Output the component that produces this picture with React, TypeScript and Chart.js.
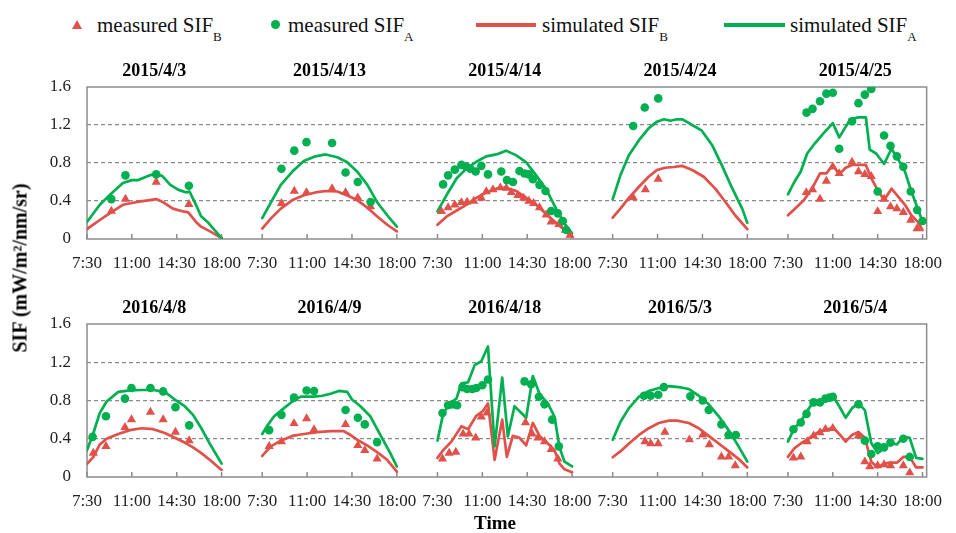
import React, { useEffect, useRef } from 'react';
import { Chart, registerables } from 'chart.js';

Chart.register(...registerables);

const RED = '#E2504A';
const GREEN = '#00B050';
const FONT = "'Liberation Serif', 'Times New Roman', serif";

const TICK_TIMES = [7.5, 11, 14.5, 18];
const TICK_LABELS = ['7:30', '11:00', '14:30', '18:00'];
const Y_TICKS = [0, 0.4, 0.8, 1.2, 1.6];
const DAY_SPACING = 13.67;
const X_MIN = 7.5;
const X_MAX = 73.0;

const TITLES_ROW1 = ['2015/4/3', '2015/4/13', '2015/4/14', '2015/4/24', '2015/4/25'];
const TITLES_ROW2 = ['2016/4/8', '2016/4/9', '2016/4/18', '2016/5/3', '2016/5/4'];

// ---- 2015/4/3 ----
const simA_150403 = [[7.5, 0.18], [8.5, 0.36], [9.4, 0.48], [10.3, 0.59], [11.0, 0.62], [11.5, 0.62], [12.4, 0.67], [12.9, 0.69], [13.4, 0.66], [14.0, 0.57], [14.6, 0.52], [15.25, 0.49], [15.5, 0.5], [16.0, 0.36], [16.4, 0.24], [16.9, 0.18], [18.0, 0.01]];
const simB_150403 = [[7.5, 0.105], [8.5, 0.2], [9.5, 0.29], [10.3, 0.36], [11.4, 0.39], [12.4, 0.41], [12.9, 0.42], [13.4, 0.39], [14.2, 0.32], [15.0, 0.29], [15.4, 0.28], [16.0, 0.18], [16.4, 0.13], [17.1, 0.08], [18.0, 0.01]];
const meaA_150403 = [[9.4, 0.42], [10.5, 0.67], [12.9, 0.68], [15.45, 0.56]];
const meaB_150403 = [[9.4, 0.295], [10.5, 0.42], [12.9, 0.6], [15.45, 0.365]];

// ---- 2015/4/13 ----
const simA_150413 = [[7.5, 0.22], [8.2, 0.39], [8.95, 0.57], [9.85, 0.71], [10.75, 0.82], [11.65, 0.87], [12.45, 0.89], [13.35, 0.86], [14.1, 0.81], [14.9, 0.71], [15.7, 0.57], [16.45, 0.39], [17.25, 0.25], [18.0, 0.13]];
const simB_150413 = [[7.5, 0.11], [8.2, 0.22], [8.95, 0.32], [9.85, 0.41], [10.75, 0.46], [11.65, 0.49], [12.45, 0.505], [13.35, 0.5], [14.1, 0.46], [14.9, 0.41], [15.7, 0.33], [16.45, 0.24], [17.25, 0.15], [18.0, 0.08]];
const meaA_150413 = [[9.0, 0.74], [10.0, 0.93], [10.95, 1.02], [12.95, 1.01], [14.0, 0.7], [14.95, 0.6], [15.95, 0.39]];
const meaB_150413 = [[9.0, 0.375], [10.0, 0.505], [10.95, 0.49], [12.95, 0.53], [14.0, 0.49], [14.95, 0.435], [15.95, 0.34]];

// ---- 2015/4/14 ----
const simA_150414 = [[7.5, 0.29], [8.2, 0.46], [9.0, 0.64], [9.75, 0.74], [10.5, 0.81], [11.3, 0.87], [12.1, 0.89], [12.85, 0.93], [13.65, 0.88], [14.4, 0.81], [15.2, 0.67], [16.0, 0.52], [16.75, 0.32], [17.4, 0.165], [18.0, 0.06]];
const simB_150414 = [[7.5, 0.15], [8.2, 0.235], [9.0, 0.3], [9.75, 0.36], [10.5, 0.43], [11.3, 0.49], [12.1, 0.53], [12.85, 0.54], [13.65, 0.505], [14.4, 0.435], [15.2, 0.36], [16.0, 0.26], [16.75, 0.17], [17.4, 0.095], [18.0, 0.025]];
const meaA_150414 = [[7.94, 0.575], [8.33, 0.67], [8.85, 0.73], [9.37, 0.78], [9.76, 0.76], [10.07, 0.74], [10.48, 0.71], [10.92, 0.77], [11.44, 0.68], [12.48, 0.71], [12.92, 0.62], [13.39, 0.6], [13.9, 0.715], [14.29, 0.69], [14.63, 0.68], [14.94, 0.63], [15.46, 0.57], [15.93, 0.505], [16.37, 0.295], [16.89, 0.27], [17.28, 0.19], [17.54, 0.095]];
const meaB_150414 = [[7.81, 0.29], [8.33, 0.33], [8.85, 0.36], [9.37, 0.385], [9.81, 0.39], [10.33, 0.4], [10.92, 0.43], [11.31, 0.5], [11.83, 0.52], [12.4, 0.54], [12.87, 0.535], [13.26, 0.49], [13.78, 0.46], [14.22, 0.43], [14.63, 0.4], [15.0, 0.375], [15.46, 0.33], [15.98, 0.255], [16.37, 0.18], [16.97, 0.155], [17.48, 0.095], [17.84, 0.04]];

// ---- 2015/4/24 ----
const simA_150424 = [[7.5, 0.42], [8.1, 0.67], [8.75, 0.88], [9.55, 1.04], [10.3, 1.165], [10.95, 1.235], [11.5, 1.26], [12.0, 1.245], [12.5, 1.26], [12.95, 1.26], [13.7, 1.2], [14.45, 1.14], [15.25, 0.99], [16.0, 0.78], [16.8, 0.54], [17.6, 0.32], [18.0, 0.17]];
const simB_150424 = [[7.5, 0.225], [8.1, 0.32], [8.75, 0.43], [9.55, 0.55], [10.3, 0.655], [10.95, 0.726], [11.6, 0.75], [12.25, 0.758], [12.9, 0.77], [13.7, 0.726], [14.6, 0.655], [15.5, 0.53], [16.3, 0.39], [17.05, 0.25], [18.0, 0.105]];
const meaA_150424 = [[9.1, 1.19], [10.0, 1.385], [11.05, 1.48]];
const meaB_150424 = [[9.1, 0.435], [10.05, 0.52], [11.05, 0.63]];

// ---- 2015/4/25 ----
const simA_150425 = [[7.5, 0.47], [8.0, 0.6], [8.5, 0.71], [9.0, 0.9], [9.62, 1.01], [10.25, 1.11], [11.0, 1.22], [11.5, 1.07], [12.0, 1.18], [12.38, 1.26], [13.0, 1.28], [13.58, 1.28], [13.88, 0.94], [14.38, 0.9], [15.0, 0.79], [15.58, 0.95], [16.13, 0.83], [16.63, 0.71], [17.13, 0.5], [17.63, 0.32], [18.0, 0.18]];
const simB_150425 = [[7.5, 0.25], [8.13, 0.33], [8.75, 0.41], [9.38, 0.53], [10.0, 0.69], [10.5, 0.69], [11.0, 0.78], [11.5, 0.68], [12.0, 0.75], [12.5, 0.78], [13.0, 0.78], [13.58, 0.78], [14.0, 0.64], [14.5, 0.515], [15.0, 0.41], [15.58, 0.53], [16.13, 0.44], [16.63, 0.36], [17.13, 0.25], [17.63, 0.18], [18.0, 0.095]];
const meaA_150425 = [[8.95, 1.33], [9.42, 1.37], [10.0, 1.45], [10.5, 1.53], [11.0, 1.54], [11.5, 0.95], [12.5, 1.24], [13.0, 1.43], [13.5, 1.52], [14.0, 1.58], [14.5, 0.5], [15.0, 1.09], [15.5, 0.98], [16.0, 0.87], [16.5, 0.76], [17.08, 0.5], [17.58, 0.305], [18.0, 0.19]];
const meaB_150425 = [[8.93, 0.49], [9.42, 0.52], [10.0, 0.42], [10.5, 0.61], [11.0, 0.76], [11.5, 0.69], [12.5, 0.81], [13.0, 0.71], [13.5, 0.68], [14.0, 0.66], [14.5, 0.29], [15.0, 0.42], [15.5, 0.34], [16.0, 0.32], [16.5, 0.28], [17.08, 0.2], [17.58, 0.11]];

// ---- 2016/4/8 ----
const simA_160408 = [[7.5, 0.28], [8.0, 0.46], [8.5, 0.67], [9.03, 0.79], [9.94, 0.89], [10.85, 0.905], [11.75, 0.91], [12.66, 0.91], [13.57, 0.89], [14.35, 0.81], [15.12, 0.74], [15.77, 0.65], [16.42, 0.51], [17.07, 0.35], [18.0, 0.14]];
const simB_160408 = [[7.5, 0.137], [8.0, 0.21], [8.5, 0.34], [9.03, 0.4], [9.94, 0.45], [10.85, 0.49], [11.75, 0.51], [12.66, 0.5], [13.57, 0.46], [14.35, 0.41], [15.12, 0.36], [15.77, 0.31], [16.42, 0.25], [17.07, 0.18], [18.0, 0.074]];
const meaA_160408 = [[7.94, 0.42], [8.98, 0.635], [10.46, 0.82], [10.97, 0.93], [12.45, 0.93], [13.44, 0.895], [14.4, 0.73], [15.47, 0.54]];
const meaB_160408 = [[7.99, 0.25], [8.98, 0.32], [10.46, 0.52], [10.97, 0.6], [12.45, 0.68], [13.44, 0.6], [14.4, 0.47], [15.47, 0.38]];

// ---- 2016/4/9 ----
const simA_160409 = [[7.5, 0.45], [7.91, 0.54], [8.43, 0.635], [9.2, 0.72], [9.85, 0.79], [10.5, 0.84], [11.15, 0.84], [11.53, 0.84], [12.18, 0.85], [12.83, 0.87], [13.47, 0.9], [14.13, 0.89], [14.5, 0.81], [15.16, 0.74], [15.93, 0.635], [16.71, 0.44], [17.49, 0.25], [18.0, 0.11]];
const simB_160409 = [[7.5, 0.22], [8.17, 0.32], [8.95, 0.38], [9.85, 0.43], [10.76, 0.45], [11.79, 0.47], [12.83, 0.48], [13.86, 0.48], [14.25, 0.45], [14.9, 0.39], [15.68, 0.33], [16.46, 0.26], [17.24, 0.18], [18.0, 0.056]];
const meaA_160409 = [[8.04, 0.49], [9.0, 0.65], [9.98, 0.83], [10.96, 0.905], [11.54, 0.9], [14.0, 0.7], [14.96, 0.62], [15.5, 0.55], [16.46, 0.365]];
const meaB_160409 = [[8.04, 0.32], [9.0, 0.37], [9.98, 0.56], [10.96, 0.61], [11.54, 0.495], [14.0, 0.55], [14.96, 0.33], [15.5, 0.28], [16.46, 0.19]];

// ---- 2016/4/18 ----
const simA_160418 = [[7.5, 0.38], [7.94, 0.66], [8.46, 0.77], [8.98, 0.82], [9.37, 0.98], [9.89, 0.99], [10.4, 1.17], [10.92, 1.21], [11.44, 1.365], [11.96, 0.32], [12.55, 1.04], [12.99, 0.425], [13.51, 0.74], [14.42, 0.62], [14.94, 1.056], [15.46, 0.87], [16.11, 0.77], [16.63, 0.63], [17.02, 0.31], [17.41, 0.16], [18.0, 0.11]];
const simB_160418 = [[7.5, 0.2], [7.94, 0.28], [8.59, 0.37], [9.37, 0.53], [9.89, 0.5], [10.53, 0.64], [11.05, 0.69], [11.44, 0.77], [11.96, 0.18], [12.55, 0.6], [12.91, 0.21], [13.38, 0.43], [13.9, 0.41], [14.42, 0.33], [14.94, 0.565], [15.46, 0.43], [16.11, 0.35], [16.63, 0.28], [17.02, 0.14], [17.41, 0.08], [18.0, 0.05]];
const meaA_160418 = [[7.89, 0.67], [8.33, 0.75], [8.67, 0.76], [9.03, 0.75], [9.45, 0.94], [9.81, 0.92], [10.22, 0.92], [10.53, 0.93], [11.0, 0.96], [11.44, 1.02], [14.29, 1.0], [14.81, 0.97], [15.41, 0.84], [15.85, 0.76], [16.45, 0.6], [16.97, 0.32]];
const meaB_160418 = [[7.89, 0.19], [8.41, 0.25], [8.93, 0.26], [9.5, 0.45], [9.96, 0.45], [10.48, 0.41], [10.92, 0.63], [11.36, 0.67], [14.37, 0.57], [14.89, 0.45], [15.33, 0.41], [15.85, 0.37], [16.37, 0.29], [16.89, 0.19]];

// ---- 2016/5/3 ----
const simA_160503 = [[7.5, 0.39], [8.12, 0.58], [8.77, 0.72], [9.55, 0.84], [10.32, 0.9], [11.1, 0.93], [11.88, 0.95], [12.66, 0.94], [13.44, 0.92], [14.21, 0.85], [14.99, 0.76], [15.77, 0.635], [16.54, 0.49], [17.32, 0.32], [18.0, 0.16]];
const simB_160503 = [[7.5, 0.207], [8.12, 0.27], [8.77, 0.35], [9.55, 0.44], [10.32, 0.51], [11.1, 0.565], [11.88, 0.59], [12.52, 0.59], [13.44, 0.565], [14.21, 0.51], [14.99, 0.43], [15.77, 0.35], [16.54, 0.27], [17.32, 0.19], [18.0, 0.1]];
const meaA_160503 = [[9.94, 0.85], [10.46, 0.85], [11.05, 0.86], [11.49, 0.94], [13.56, 0.845], [14.52, 0.8], [14.99, 0.7], [15.98, 0.55], [16.54, 0.44], [17.11, 0.44]];
const meaB_160503 = [[10.02, 0.37], [10.46, 0.35], [11.05, 0.35], [11.57, 0.47], [13.48, 0.39], [14.52, 0.44], [15.04, 0.34], [15.98, 0.21], [16.54, 0.21], [17.06, 0.12]];

// ---- 2016/5/4 ----
const simA_160504 = [[7.5, 0.37], [8.0, 0.51], [8.5, 0.58], [9.0, 0.69], [9.5, 0.79], [10.0, 0.79], [10.5, 0.83], [11.0, 0.85], [11.5, 0.74], [12.0, 0.62], [12.5, 0.72], [13.0, 0.77], [13.5, 0.7], [14.0, 0.355], [14.5, 0.25], [15.0, 0.3], [15.5, 0.355], [16.0, 0.34], [16.5, 0.42], [17.0, 0.41], [17.5, 0.2], [18.0, 0.19]];
const simB_160504 = [[7.5, 0.21], [8.0, 0.3], [8.5, 0.35], [9.0, 0.39], [9.5, 0.44], [10.0, 0.48], [10.5, 0.49], [11.0, 0.52], [11.5, 0.45], [12.0, 0.37], [12.5, 0.44], [13.0, 0.47], [13.5, 0.41], [14.0, 0.16], [14.5, 0.1], [15.0, 0.14], [15.5, 0.15], [16.0, 0.15], [16.5, 0.21], [17.0, 0.21], [17.5, 0.1], [18.0, 0.1]];
const meaA_160504 = [[7.93, 0.5], [8.5, 0.57], [8.95, 0.66], [9.5, 0.78], [10.0, 0.78], [10.43, 0.82], [10.75, 0.83], [11.0, 0.84], [13.0, 0.76], [13.5, 0.38], [14.0, 0.24], [14.5, 0.32], [15.0, 0.31], [15.5, 0.36], [16.5, 0.4], [17.0, 0.21]];
const meaB_160504 = [[7.93, 0.2], [8.5, 0.21], [9.0, 0.37], [9.5, 0.43], [10.0, 0.465], [10.43, 0.5], [11.0, 0.51], [13.0, 0.43], [13.5, 0.16], [13.88, 0.11], [14.5, 0.12], [15.0, 0.13], [15.5, 0.12], [16.5, 0.12], [17.0, 0.045]];

type Pair = number[];
interface Panel { simA: Pair[]; simB: Pair[]; meaA: Pair[]; meaB: Pair[] }

const ROW1: Panel[] = [
  { simA: simA_150403, simB: simB_150403, meaA: meaA_150403, meaB: meaB_150403 },
  { simA: simA_150413, simB: simB_150413, meaA: meaA_150413, meaB: meaB_150413 },
  { simA: simA_150414, simB: simB_150414, meaA: meaA_150414, meaB: meaB_150414 },
  { simA: simA_150424, simB: simB_150424, meaA: meaA_150424, meaB: meaB_150424 },
  { simA: simA_150425, simB: simB_150425, meaA: meaA_150425, meaB: meaB_150425 },
];
const ROW2: Panel[] = [
  { simA: simA_160408, simB: simB_160408, meaA: meaA_160408, meaB: meaB_160408 },
  { simA: simA_160409, simB: simB_160409, meaA: meaA_160409, meaB: meaB_160409 },
  { simA: simA_160418, simB: simB_160418, meaA: meaA_160418, meaB: meaB_160418 },
  { simA: simA_160503, simB: simB_160503, meaA: meaA_160503, meaB: meaB_160503 },
  { simA: simA_160504, simB: simB_160504, meaA: meaA_160504, meaB: meaB_160504 },
];

const ALL_TICKS: number[] = [];
for (let p = 0; p < 5; p++) TICK_TIMES.forEach((t) => ALL_TICKS.push(p * DAY_SPACING + t));

function buildDatasets(panels: Panel[]) {
  const ds: any[] = [];
  panels.forEach((p, i) => {
    const off = i * DAY_SPACING;
    const map = (arr: Pair[]) => arr.map(([t, v]) => ({ x: off + t, y: v }));
    ds.push({ data: map(p.meaA), pointStyle: 'circle', pointRadius: 4.3, backgroundColor: GREEN, borderColor: GREEN, borderWidth: 0, showLine: false });
    ds.push({ data: map(p.meaB), pointStyle: 'triangle', pointRadius: 5.3, backgroundColor: RED, borderColor: RED, borderWidth: 0, showLine: false });
    ds.push({ data: map(p.simA), showLine: true, pointRadius: 0, borderColor: GREEN, backgroundColor: GREEN, borderWidth: 2.7, tension: 0, borderJoinStyle: 'round', borderCapStyle: 'round' });
    ds.push({ data: map(p.simB), showLine: true, pointRadius: 0, borderColor: RED, backgroundColor: RED, borderWidth: 2.7, tension: 0, borderJoinStyle: 'round', borderCapStyle: 'round' });
  });
  return ds;
}

const decorPlugin = {
  id: 'decor',
  beforeDatasetsDraw(chart: any) {
    const { ctx, chartArea: a, scales } = chart;
    const x = scales.x;
    ctx.save();
    ctx.strokeStyle = '#8C8C8C';
    ctx.lineWidth = 1.5;
    ctx.strokeRect(a.left, a.top, a.right - a.left, a.bottom - a.top);
    ALL_TICKS.forEach((v) => {
      const px = x.getPixelForValue(v);
      ctx.beginPath();
      ctx.moveTo(px, a.bottom);
      ctx.lineTo(px, a.bottom - 5);
      ctx.stroke();
    });
    ctx.restore();
  },
  afterDraw(chart: any, _args: any, opts: any) {
    const { ctx, chartArea: a, scales } = chart;
    const x = scales.x;
    const titles: string[] = opts.titles || [];
    ctx.save();
    ctx.fillStyle = '#000';
    ctx.font = `bold 18px ${FONT}`;
    ctx.textAlign = 'center';
    ctx.textBaseline = 'middle';
    titles.forEach((t, i) => {
      const cx = x.getPixelForValue(i * DAY_SPACING + 12.75);
      ctx.fillText(t, cx, a.top - 16);
    });
    ctx.restore();
  },
};

function makeConfig(panels: Panel[], titles: string[], topPad: number): any {
  return {
    type: 'scatter',
    data: { datasets: buildDatasets(panels) },
    options: {
      animation: false,
      responsive: false,
      maintainAspectRatio: false,
      events: [],
      layout: { padding: { top: topPad, right: 21, left: 0, bottom: 0 } },
      plugins: { legend: { display: false }, tooltip: { enabled: false }, decor: { titles } },
      scales: {
        x: {
          type: 'linear',
          min: X_MIN,
          max: X_MAX,
          afterBuildTicks: (s: any) => { s.ticks = ALL_TICKS.map((v) => ({ value: v })); },
          afterFit: (s: any) => { s.height = 46; },
          ticks: {
            autoSkip: false,
            maxRotation: 0,
            minRotation: 0,
            padding: 14,
            color: '#222',
            font: { family: FONT, size: 17 },
            callback: (_v: any, i: number) => TICK_LABELS[i % 4],
          },
          grid: { display: false, drawTicks: false },
          border: { display: false },
        },
        y: {
          min: 0,
          max: 1.6,
          afterBuildTicks: (s: any) => { s.ticks = Y_TICKS.map((v) => ({ value: v })); },
          afterFit: (s: any) => { s.width = 87; },
          ticks: {
            padding: 16,
            color: '#222',
            font: { family: FONT, size: 17 },
            callback: (v: any) => (v === 0 ? '0' : Number(v).toFixed(1)),
          },
          grid: {
            drawTicks: false,
            lineWidth: 1.3,
            color: (c: any) => (c.tick && c.tick.value > 0.01 && c.tick.value < 1.59 ? '#8A8A8A' : 'rgba(0,0,0,0)'),
          },
          border: { display: false, dash: [4, 3] },
        },
      },
    },
    plugins: [decorPlugin],
  };
}

const subStyle: React.CSSProperties = { fontSize: '0.62em', position: 'relative', top: '0.3em' };

export default function App() {
  const c1 = useRef<HTMLCanvasElement>(null);
  const c2 = useRef<HTMLCanvasElement>(null);

  useEffect(() => {
    const ch1 = new Chart(c1.current as HTMLCanvasElement, makeConfig(ROW1, TITLES_ROW1, 42));
    const ch2 = new Chart(c2.current as HTMLCanvasElement, makeConfig(ROW2, TITLES_ROW2, 39));
    return () => { ch1.destroy(); ch2.destroy(); };
  }, []);

  const textBase: React.CSSProperties = { position: 'absolute', top: 13, fontSize: 21, lineHeight: '24px', whiteSpace: 'nowrap', color: '#111' };

  return (
    <div style={{ position: 'absolute', left: 0, top: 0, width: 956, height: 533, background: '#fff', fontFamily: FONT, overflow: 'hidden' }}>
      {/* legend */}
      <div style={{ position: 'absolute', left: 72, top: 20, width: 0, height: 0, borderLeft: '5px solid transparent', borderRight: '5px solid transparent', borderBottom: '9px solid ' + RED }} />
      <span style={{ ...textBase, left: 97 }}>measured SIF<sub style={subStyle}>B</sub></span>
      <div style={{ position: 'absolute', left: 271, top: 20, width: 9, height: 9, borderRadius: '50%', background: GREEN }} />
      <span style={{ ...textBase, left: 288 }}>measured SIF<sub style={subStyle}>A</sub></span>
      <div style={{ position: 'absolute', left: 476, top: 23, width: 60, height: 4, background: RED }} />
      <span style={{ ...textBase, left: 542 }}>simulated SIF<sub style={subStyle}>B</sub></span>
      <div style={{ position: 'absolute', left: 724, top: 23, width: 61, height: 4, background: GREEN }} />
      <span style={{ ...textBase, left: 790 }}>simulated SIF<sub style={subStyle}>A</sub></span>

      <canvas ref={c1} width={956} height={240} style={{ position: 'absolute', left: 0, top: 45 }} />
      <canvas ref={c2} width={956} height={238} style={{ position: 'absolute', left: 0, top: 285 }} />

      <div style={{ position: 'absolute', left: 20, top: 268, transform: 'translate(-50%, -50%) rotate(-90deg)', whiteSpace: 'nowrap', fontWeight: 'bold', fontSize: 20 }}>
        SIF (mW/m²/nm/sr)
      </div>
      <div style={{ position: 'absolute', left: 495, top: 523, transform: 'translate(-50%, -50%)', whiteSpace: 'nowrap', fontWeight: 'bold', fontSize: 19 }}>
        Time
      </div>
    </div>
  );
}
